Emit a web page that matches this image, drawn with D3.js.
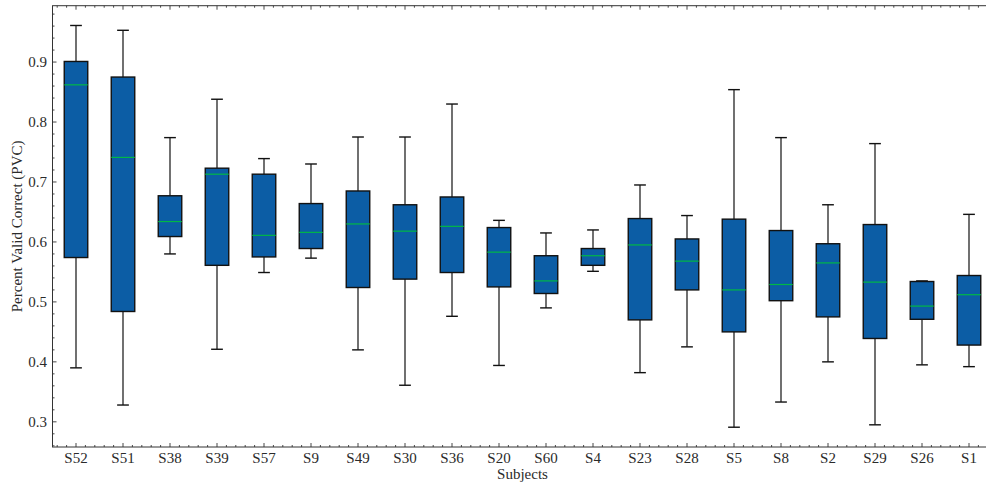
<!DOCTYPE html>
<html>
<head>
<meta charset="utf-8">
<script src="https://cdn.jsdelivr.net/npm/d3@7"></script>
<style>
  html, body { margin: 0; padding: 0; background: #fff; overflow: hidden; }
  svg { display: block; }
  text { font-family: "Liberation Serif", "DejaVu Serif", serif; fill: #2a2a2a; }
</style>
</head>
<body>
<svg id="chart" width="986" height="488"></svg>
<script>
const subjects    = ["S52","S51","S38","S39","S57","S9","S49","S30","S36","S20","S60","S4","S23","S28","S5","S8","S2","S29","S26","S1"];
const whiskerLow  = [0.390,0.328,0.580,0.421,0.549,0.573,0.420,0.361,0.476,0.394,0.490,0.551,0.382,0.425,0.291,0.333,0.400,0.295,0.395,0.392];
const q1          = [0.574,0.484,0.609,0.561,0.575,0.589,0.524,0.538,0.549,0.525,0.514,0.561,0.470,0.520,0.450,0.502,0.475,0.439,0.471,0.428];
const median      = [0.862,0.741,0.634,0.713,0.611,0.616,0.630,0.618,0.626,0.583,0.535,0.577,0.595,0.568,0.520,0.529,0.565,0.533,0.493,0.512];
const q3          = [0.901,0.875,0.677,0.723,0.713,0.664,0.685,0.662,0.675,0.624,0.577,0.589,0.639,0.605,0.638,0.619,0.597,0.629,0.534,0.544];
const whiskerHigh = [0.961,0.953,0.774,0.838,0.739,0.730,0.775,0.775,0.830,0.636,0.615,0.620,0.695,0.644,0.854,0.774,0.662,0.764,0.535,0.646];
const yTicks      = [0.3,0.4,0.5,0.6,0.7,0.8,0.9];
const yLabel = "Percent Valid Correct (PVC)";
const xLabel = "Subjects";

const svg = d3.select("#chart");
const L = 52.5, R = 992.5, T = 5.7, B = 447;

const x = d3.scaleLinear().domain([0.5, subjects.length + 0.5]).range([L, R]);
const y = d3.scaleLinear().domain([0.258, 0.994]).range([B, T]);

const data = subjects.map((s, i) => ({
  s, pos: i + 1, lo: whiskerLow[i], q1: q1[i], med: median[i], q3: q3[i], hi: whiskerHigh[i]
}));

const boxW = x(1.25) - x(1);     // half width (box width 0.5)
const capW = x(1.125) - x(1);    // half cap width

const g = svg.append("g");

// whiskers
g.selectAll(".wl").data(data).enter().append("line")
  .attr("x1", d => x(d.pos)).attr("x2", d => x(d.pos))
  .attr("y1", d => y(d.q1)).attr("y2", d => y(d.lo))
  .attr("stroke", "#111").attr("stroke-width", 1.2);
g.selectAll(".wh").data(data).enter().append("line")
  .attr("x1", d => x(d.pos)).attr("x2", d => x(d.pos))
  .attr("y1", d => y(d.q3)).attr("y2", d => y(d.hi))
  .attr("stroke", "#111").attr("stroke-width", 1.2);
// caps
g.selectAll(".cl").data(data).enter().append("line")
  .attr("x1", d => x(d.pos) - capW).attr("x2", d => x(d.pos) + capW)
  .attr("y1", d => y(d.lo)).attr("y2", d => y(d.lo))
  .attr("stroke", "#111").attr("stroke-width", 1.4);
g.selectAll(".ch").data(data).enter().append("line")
  .attr("x1", d => x(d.pos) - capW).attr("x2", d => x(d.pos) + capW)
  .attr("y1", d => y(d.hi)).attr("y2", d => y(d.hi))
  .attr("stroke", "#111").attr("stroke-width", 1.4);
// boxes
g.selectAll(".box").data(data).enter().append("rect")
  .attr("x", d => x(d.pos) - boxW).attr("width", 2 * boxW)
  .attr("y", d => y(d.q3)).attr("height", d => y(d.q1) - y(d.q3))
  .attr("fill", "#0C5DA5").attr("stroke", "#111").attr("stroke-width", 1.4);
// medians
g.selectAll(".med").data(data).enter().append("line")
  .attr("x1", d => x(d.pos) - boxW).attr("x2", d => x(d.pos) + boxW)
  .attr("y1", d => y(d.med)).attr("y2", d => y(d.med))
  .attr("stroke", "#00B945").attr("stroke-width", 1.2);

// frame
svg.append("rect").attr("x", L).attr("y", T).attr("width", R - L).attr("height", B - T)
  .attr("fill", "none").attr("stroke", "#333").attr("stroke-width", 1);

// ticks (inward, all sides)
const tickG = svg.append("g").attr("stroke", "#333").attr("stroke-width", 0.9);
const majorLen = 4, minorLen = 2;
subjects.forEach((s, i) => {
  const px = x(i + 1);
  tickG.append("line").attr("x1", px).attr("x2", px).attr("y1", B).attr("y2", B - majorLen);
  tickG.append("line").attr("x1", px).attr("x2", px).attr("y1", T).attr("y2", T + majorLen);
});
const xMinor = d3.range(0.6, subjects.length + 0.5, 0.2).filter(v => Math.abs(v - Math.round(v)) > 0.05);
xMinor.forEach(v => {
  const px = x(v);
  tickG.append("line").attr("x1", px).attr("x2", px).attr("y1", B).attr("y2", B - minorLen);
  tickG.append("line").attr("x1", px).attr("x2", px).attr("y1", T).attr("y2", T + minorLen);
});
yTicks.forEach(v => {
  const py = y(v);
  tickG.append("line").attr("x1", L).attr("x2", L + majorLen).attr("y1", py).attr("y2", py);
  tickG.append("line").attr("x1", R).attr("x2", R - majorLen).attr("y1", py).attr("y2", py);
});
const yMinor = d3.range(0.26, 0.994, 0.02).filter(v => Math.abs(v * 10 - Math.round(v * 10)) > 0.05);
yMinor.forEach(v => {
  const py = y(v);
  tickG.append("line").attr("x1", L).attr("x2", L + minorLen).attr("y1", py).attr("y2", py);
  tickG.append("line").attr("x1", R).attr("x2", R - minorLen).attr("y1", py).attr("y2", py);
});

// tick labels
const FS = 15;
svg.append("g").selectAll("text").data(subjects).enter().append("text")
  .attr("x", (d, i) => x(i + 1)).attr("y", 462.5)
  .attr("text-anchor", "middle").attr("font-size", FS).text(d => d);
svg.append("g").selectAll("text").data(yTicks).enter().append("text")
  .attr("x", 47).attr("y", d => y(d) + 5)
  .attr("text-anchor", "end").attr("font-size", FS).text(d => d3.format(".1f")(d));

// axis labels
svg.append("text").attr("x", (L + R) / 2).attr("y", 479)
  .attr("text-anchor", "middle").attr("font-size", FS).text(xLabel);
svg.append("text").attr("transform", `translate(21.5,${(T + B) / 2}) rotate(-90)`)
  .attr("text-anchor", "middle").attr("font-size", FS).text(yLabel);
</script>
</body>
</html>
